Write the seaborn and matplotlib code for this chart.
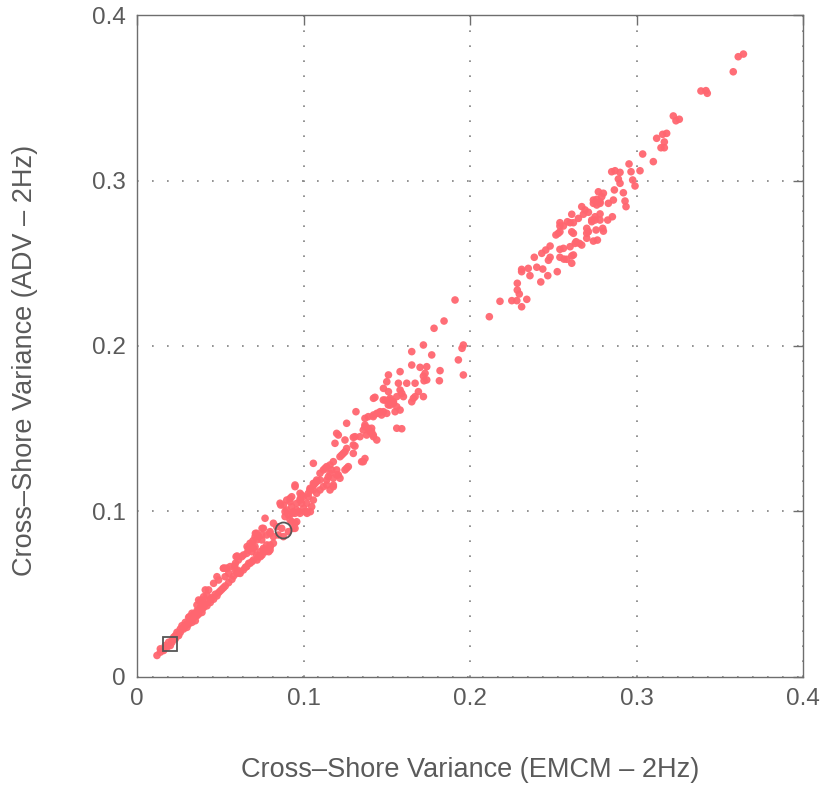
import numpy as np
import pandas as pd
import matplotlib
matplotlib.use("Agg")
import matplotlib.pyplot as plt
import seaborn as sns

# Cross-shore velocity variance: EMCM (x) vs ADV (y), both at 2 Hz
seg_low = [
    (0.012, 0.013), (0.014, 0.015), (0.016, 0.016), (0.018, 0.018), (0.020, 0.019),
    (0.021, 0.021), (0.023, 0.023), (0.025, 0.025), (0.026, 0.027), (0.028, 0.029),
    (0.030, 0.030), (0.031, 0.032), (0.033, 0.033), (0.035, 0.034), (0.036, 0.037),
    (0.037, 0.038), (0.039, 0.039), (0.040, 0.042), (0.042, 0.043), (0.044, 0.045),
    (0.046, 0.047), (0.048, 0.049), (0.049, 0.051), (0.051, 0.053), (0.053, 0.055),
    (0.055, 0.057), (0.057, 0.059), (0.058, 0.061),
    (0.014, 0.017), (0.017, 0.019), (0.019, 0.021), (0.022, 0.024), (0.024, 0.027),
    (0.026, 0.029), (0.027, 0.031), (0.029, 0.033), (0.031, 0.036), (0.032, 0.034),
    (0.034, 0.038), (0.036, 0.040), (0.038, 0.042), (0.025, 0.026), (0.028, 0.030),
    (0.030, 0.032), (0.033, 0.035), (0.035, 0.037), (0.037, 0.040), (0.039, 0.041),
    (0.041, 0.044), (0.043, 0.046), (0.045, 0.048), (0.021, 0.022), (0.023, 0.025),
    (0.029, 0.031), (0.032, 0.035), (0.034, 0.036), (0.040, 0.043), (0.044, 0.047),
    (0.047, 0.050), (0.050, 0.052), (0.052, 0.054),
    (0.0316, 0.0365), (0.033, 0.0385), (0.036, 0.0435), (0.037, 0.0465), (0.038, 0.0455),
    (0.039, 0.0465), (0.040, 0.0485), (0.042, 0.0495), (0.041, 0.0526), (0.043, 0.0526),
    (0.046, 0.0566), (0.049, 0.0586), (0.048, 0.0606), (0.052, 0.0657), (0.0531, 0.0657),
    (0.0551, 0.0626), (0.0585, 0.0671), (0.0591, 0.0687), (0.0519, 0.0657), (0.0529, 0.0606),
    (0.0539, 0.0657), (0.0559, 0.0667), (0.0589, 0.0647),
]

seg_mid = [
    (0.0601, 0.0626), (0.0619, 0.0626), (0.0621, 0.0636), (0.0639, 0.0647), (0.0651, 0.0663),
    (0.0659, 0.0667), (0.0671, 0.0687), (0.0679, 0.0687), (0.0691, 0.0697), (0.0699, 0.0707),
    (0.0719, 0.0737), (0.0721, 0.0707), (0.0741, 0.0727), (0.0739, 0.0757), (0.0751, 0.0737),
    (0.0759, 0.0777), (0.0771, 0.0757), (0.0779, 0.0798), (0.0791, 0.0757), (0.0799, 0.0767),
    (0.0801, 0.0788), (0.0819, 0.0808), (0.0729, 0.0727), (0.0759, 0.0767), (0.0799, 0.0797),
    (0.0849, 0.0858), (0.0819, 0.0848), (0.0879, 0.0848), (0.0909, 0.0878), (0.0939, 0.0898),
    (0.0929, 0.0938), (0.0949, 0.0929), (0.0959, 0.0938), (0.0949, 0.0898), (0.0919, 0.0949),
    (0.0889, 0.0969), (0.0949, 0.0989), (0.0979, 0.0989),
    (0.0601, 0.0731), (0.0601, 0.0647), (0.0595, 0.0727), (0.0609, 0.0707), (0.0629, 0.0727),
    (0.0639, 0.0737), (0.0659, 0.0747), (0.0669, 0.0767), (0.0669, 0.0778), (0.0661, 0.0788),
    (0.0679, 0.0808), (0.0689, 0.0798), (0.0691, 0.0757), (0.0701, 0.0777), (0.0697, 0.0824),
    (0.0709, 0.0787), (0.0709, 0.0848), (0.0711, 0.0868), (0.0719, 0.0828), (0.0719, 0.0868),
    (0.0731, 0.0848), (0.0749, 0.0858), (0.0749, 0.0828), (0.0751, 0.0898), (0.0759, 0.0898),
    (0.0769, 0.0959), (0.0779, 0.0858), (0.0799, 0.0878), (0.0799, 0.0868), (0.0819, 0.0929),
    (0.0839, 0.0908), (0.0869, 0.0898), (0.0859, 0.1050), (0.0863, 0.1039), (0.0879, 0.1039),
    (0.0889, 0.0999), (0.0899, 0.1069), (0.0899, 0.1009), (0.0909, 0.0979), (0.0919, 0.1059),
    (0.0919, 0.1079), (0.0929, 0.1089), (0.0929, 0.1029), (0.0931, 0.0989), (0.0939, 0.0999),
    (0.0949, 0.1160), (0.0949, 0.1150), (0.0959, 0.1049), (0.0959, 0.1009), (0.0971, 0.0999),
    (0.0979, 0.1069), (0.0989, 0.1049), (0.0989, 0.1099), (0.0999, 0.1089), (0.0981, 0.1079),
    (0.0979, 0.1110),
]

seg_upper_mid = [
    (0.1001, 0.1019), (0.1009, 0.0999), (0.1019, 0.1050), (0.1019, 0.0999), (0.1021, 0.0989),
    (0.1029, 0.1089), (0.1029, 0.1110), (0.1039, 0.1130), (0.1039, 0.1140), (0.1041, 0.0999),
    (0.1041, 0.1130), (0.1049, 0.1029), (0.1059, 0.1069), (0.1059, 0.1130), (0.1059, 0.1291),
    (0.1059, 0.1170), (0.1061, 0.1160), (0.1069, 0.1170), (0.1079, 0.1110), (0.1079, 0.1180),
    (0.1079, 0.1190), (0.1099, 0.1130), (0.1099, 0.1190), (0.1099, 0.1231), (0.1119, 0.1150),
    (0.1119, 0.1251), (0.1129, 0.1261), (0.1139, 0.1190), (0.1139, 0.1160), (0.1139, 0.1271),
    (0.1149, 0.1210), (0.1159, 0.1231), (0.1159, 0.1281), (0.1159, 0.1130), (0.1169, 0.1251),
    (0.1179, 0.1160), (0.1179, 0.1201), (0.1179, 0.1301), (0.1179, 0.1150), (0.1189, 0.1412),
    (0.1199, 0.1221), (0.1199, 0.1251), (0.1199, 0.1472), (0.1209, 0.1462), (0.1209, 0.1221),
    (0.1219, 0.1201), (0.1219, 0.1331), (0.1229, 0.1341), (0.1239, 0.1351), (0.1249, 0.1251),
    (0.1249, 0.1432), (0.1249, 0.1361), (0.1259, 0.1381), (0.1259, 0.1261), (0.1259, 0.1533),
    (0.1269, 0.1271), (0.1299, 0.1351), (0.1299, 0.1402), (0.1299, 0.1448), (0.1309, 0.1395),
    (0.1309, 0.1452), (0.1315, 0.1603), (0.1339, 0.1452), (0.1349, 0.1301), (0.1359, 0.1301),
    (0.1359, 0.1492), (0.1369, 0.1320), (0.1369, 0.1512), (0.1369, 0.1523), (0.1369, 0.1563),
    (0.1379, 0.1462), (0.1389, 0.1503), (0.1389, 0.1573), (0.1399, 0.1482), (0.1409, 0.1482),
    (0.1409, 0.1503), (0.1419, 0.1462), (0.1419, 0.1573), (0.1420, 0.1684), (0.1420, 0.1583),
    (0.1420, 0.1452), (0.1429, 0.1690), (0.1440, 0.1432), (0.1440, 0.1593), (0.1449, 0.1593),
    (0.1460, 0.1603), (0.1469, 0.1583), (0.1479, 0.1674), (0.1480, 0.1744), (0.1480, 0.1603),
    (0.1490, 0.1673), (0.1500, 0.1784), (0.1500, 0.1593), (0.1509, 0.1644), (0.1510, 0.1825),
    (0.1510, 0.1724), (0.1520, 0.1673), (0.1520, 0.1643), (0.1520, 0.1684), (0.1540, 0.1663),
    (0.1540, 0.1654), (0.1550, 0.1603), (0.1560, 0.1694), (0.1560, 0.1633), (0.1560, 0.1503),
    (0.1570, 0.1775), (0.1580, 0.1845), (0.1580, 0.1734), (0.1580, 0.1613), (0.1590, 0.1714),
    (0.1590, 0.1500),
]

seg_gap = [
    (0.1600, 0.1694), (0.1620, 0.1775), (0.1650, 0.1966), (0.1650, 0.1885), (0.1650, 0.1663),
    (0.1660, 0.1684), (0.1670, 0.1775), (0.1670, 0.1694), (0.1690, 0.1724), (0.1700, 0.1871),
    (0.1720, 0.1694), (0.1720, 0.2006), (0.1720, 0.1818), (0.1730, 0.1835), (0.1740, 0.1875),
    (0.1740, 0.1795), (0.1724, 0.1790), (0.1770, 0.1946), (0.1784, 0.2107), (0.1816, 0.1790),
    (0.1820, 0.1851), (0.1844, 0.2151), (0.1910, 0.2278), (0.1930, 0.1916), (0.1952, 0.1986),
    (0.1960, 0.2006), (0.1960, 0.1825), (0.2116, 0.2177), (0.2180, 0.2270), (0.2251, 0.2274),
    (0.2281, 0.2274), (0.2284, 0.2379), (0.2284, 0.2338), (0.2296, 0.2314),
]

seg_high = [
    (0.2310, 0.2237), (0.2310, 0.2463), (0.2310, 0.2449), (0.2341, 0.2282), (0.2350, 0.2469),
    (0.2360, 0.2425), (0.2386, 0.2536), (0.2401, 0.2476), (0.2425, 0.2387), (0.2431, 0.2560),
    (0.2437, 0.2465), (0.2455, 0.2580), (0.2467, 0.2425), (0.2471, 0.2518), (0.2481, 0.2536),
    (0.2481, 0.2604), (0.2516, 0.2671), (0.2524, 0.2449), (0.2530, 0.2681), (0.2540, 0.2690),
    (0.2540, 0.2745), (0.2540, 0.2725), (0.2540, 0.2584), (0.2540, 0.2536), (0.2561, 0.2725),
    (0.2561, 0.2590), (0.2564, 0.2525), (0.2581, 0.2524), (0.2585, 0.2751), (0.2601, 0.2745),
    (0.2601, 0.2600), (0.2611, 0.2796), (0.2611, 0.2690), (0.2611, 0.2544), (0.2611, 0.2500),
    (0.2621, 0.2745), (0.2621, 0.2681), (0.2621, 0.2550), (0.2631, 0.2620), (0.2637, 0.2630),
    (0.2651, 0.2771), (0.2657, 0.2620), (0.2671, 0.2842), (0.2671, 0.2610), (0.2681, 0.2796),
    (0.2691, 0.2822), (0.2701, 0.2711), (0.2701, 0.2681), (0.2701, 0.2651), (0.2711, 0.2808),
    (0.2711, 0.2691), (0.2731, 0.2761), (0.2731, 0.2751), (0.2741, 0.2882), (0.2741, 0.2862),
    (0.2741, 0.2634), (0.2751, 0.2781), (0.2751, 0.2761), (0.2757, 0.2701), (0.2761, 0.2886),
    (0.2761, 0.2852), (0.2765, 0.2640), (0.2771, 0.2932), (0.2781, 0.2872), (0.2781, 0.2862),
    (0.2781, 0.2798), (0.2781, 0.2761), (0.2791, 0.2902), (0.2797, 0.2711), (0.2801, 0.2923),
    (0.2801, 0.2694), (0.2827, 0.2761), (0.2831, 0.2862), (0.2851, 0.3053), (0.2855, 0.2781),
    (0.2861, 0.2882), (0.2867, 0.2943), (0.2871, 0.3059), (0.2891, 0.3009), (0.2901, 0.3049),
    (0.2901, 0.2983), (0.2921, 0.2926), (0.2931, 0.2876), (0.2937, 0.2842), (0.2955, 0.3100),
    (0.2967, 0.3053), (0.2977, 0.3003), (0.2991, 0.2967), (0.3021, 0.3059), (0.3037, 0.3160),
    (0.3101, 0.3114), (0.3121, 0.3255), (0.3147, 0.3198), (0.3157, 0.3279), (0.3167, 0.3198),
    (0.3167, 0.3233), (0.3181, 0.3285), (0.3221, 0.3390), (0.3237, 0.3361), (0.3257, 0.3370),
    (0.3387, 0.3541), (0.3417, 0.3543), (0.3425, 0.3527), (0.3581, 0.3657), (0.3611, 0.3748),
    (0.3642, 0.3764),
]

# Highlighted runs
square_pt = (0.020, 0.020)
circle_pt = (0.0875, 0.089)

tick_vals = [0, 0.1, 0.2, 0.3, 0.4]
tick_labels = ["0", "0.1", "0.2", "0.3", "0.4"]

pts = seg_low + seg_mid + seg_upper_mid + seg_gap + seg_high
df = pd.DataFrame(pts, columns=["emcm", "adv"])

sns.set_theme(style="white")
plt.rcParams["font.family"] = ["Liberation Sans", "DejaVu Sans"]

text_col = "#5a5a5a"
axis_col = "#6e6e6e"
dot_col = "#ff6670"

fig = plt.figure(figsize=(8.22, 7.86), dpi=100)
ax = fig.add_axes([0.1667, 0.1387, 0.8102, 0.8422])

sns.scatterplot(data=df, x="emcm", y="adv", ax=ax, s=30, color=dot_col,
                edgecolor="none", linewidth=0, alpha=0.95, zorder=3)

ax.plot([square_pt[0]], [square_pt[1]], marker="s", ms=10.5, mfc="none",
        mec="#555555", mew=1.3, zorder=4)
ax.plot([circle_pt[0]], [circle_pt[1]], marker="o", ms=11.5, mfc="none",
        mec="#555555", mew=1.3, zorder=4)

ax.set_xlim(0, 0.4)
ax.set_ylim(0, 0.4)
ax.set_xticks(tick_vals)
ax.set_yticks(tick_vals)
ax.set_xticklabels(tick_labels)
ax.set_yticklabels(tick_labels)

ax.grid(True, color="#808080", linestyle=(0, (1, 8)), linewidth=1.2)
ax.set_axisbelow(True)

for sp in ax.spines.values():
    sp.set_visible(True)
    sp.set_color(axis_col)
    sp.set_linewidth(1.0)

ax.tick_params(axis="both", which="both", direction="in", length=7, width=1.0,
               color=axis_col, labelcolor=text_col, labelsize=17.5,
               top=True, right=True, pad=8)

ax.set_xlabel("Cross\u2013Shore Variance (EMCM \u2013 2Hz)", fontsize=19.5,
              color=text_col, labelpad=34)
ax.set_ylabel("Cross\u2013Shore Variance (ADV \u2013 2Hz)", fontsize=19.5,
              color=text_col)
ax.yaxis.set_label_coords(-0.149, 0.478)

fig.savefig("out.png", dpi=100, facecolor="white")
